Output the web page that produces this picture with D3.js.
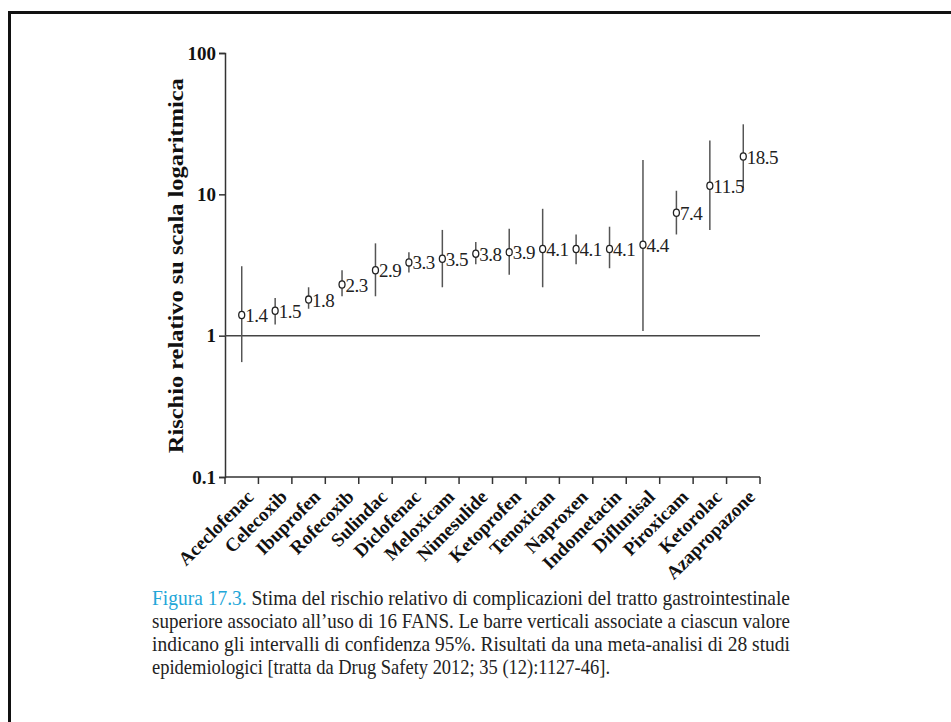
<!DOCTYPE html>
<html>
<head>
<meta charset="utf-8">
<script src="https://cdn.jsdelivr.net/npm/d3@7"></script>
<style>
  body { margin: 0; background: #fff; }
  svg text { font-family: "Liberation Serif", "DejaVu Serif", serif; }
</style>
</head>
<body>
<div id="chart"></div>
<script>
// drug names, point estimate (relative risk) and 95% CI
const drugs = ["Aceclofenac", "Celecoxib", "Ibuprofen", "Rofecoxib", "Sulindac", "Diclofenac",
  "Meloxicam", "Nimesulide", "Ketoprofen", "Tenoxican", "Naproxen", "Indometacin",
  "Diflunisal", "Piroxicam", "Ketorolac", "Azapropazone"]
const rr = [1.4, 1.5, 1.8, 2.3, 2.9, 3.3, 3.5, 3.8, 3.9, 4.1, 4.1, 4.1, 4.4, 7.4, 11.5, 18.5]
const ciLow = [0.65, 1.2, 1.55, 1.9, 1.9, 2.8, 2.2, 3.2, 2.7, 2.2, 3.2, 3.0, 1.08, 5.2, 5.6, 11.1]
const ciHigh = [3.1, 1.85, 2.2, 2.9, 4.5, 3.9, 5.6, 4.6, 5.7, 7.9, 5.2, 5.9, 17.5, 10.6, 24, 31.3]
const yTicks = [0.1, 1, 10, 100]
const yTitle = "Rischio relativo su scala logaritmica"
const captionLabel = "Figura 17.3."
const captionLines = [
  " Stima del rischio relativo di complicazioni del tratto gastrointestinale",
  "superiore associato  all\u2019uso di 16 FANS. Le barre verticali associate a ciascun valore",
  "indicano gli intervalli di confidenza 95%. Risultati da una meta-analisi di 28 studi",
  "epidemiologici [tratta da Drug Safety 2012; 35 (12):1127-46]."
]

const W = 951, H = 722
const margin = {top: 53, left: 225, right: 191, bottom: 245}
const width = W - margin.left - margin.right
const height = H - margin.top - margin.bottom

const svg = d3.select("#chart").append("svg")
  .attr("width", W)
  .attr("height", H)

// page frame
svg.append("path")
  .attr("d", `M9.5,${H} V12.5 H${W}`)
  .attr("fill", "none")
  .attr("stroke", "#111")
  .attr("stroke-width", 3)

const g = svg.append("g")
  .attr("transform", "translate(" + margin.left + "," + margin.top + ")")

const x = d3.scaleBand()
  .domain(drugs)
  .range([0, width])

const y = d3.scaleLog()
  .domain([0.1, 100])
  .range([height, 0])

// y axis
const yAxis = g.append("g")
  .call(d3.axisLeft(y).tickValues(yTicks).tickFormat(d3.format("~g")).tickSize(6).tickPadding(3))
yAxis.select(".domain").attr("stroke", "#333").attr("stroke-width", 1.5)
yAxis.selectAll(".tick line").attr("stroke", "#333").attr("stroke-width", 1.5)
yAxis.selectAll("text")
  .attr("fill", "#111")
  .style("font-size", "19px")
  .style("font-weight", "bold")
  .style("font-family", "Liberation Serif, serif")

// x axis, ticks at band edges
const xAxis = g.append("g")
  .attr("transform", "translate(0," + height + ")")
xAxis.append("line")
  .attr("x1", 0).attr("x2", width)
  .attr("stroke", "#333").attr("stroke-width", 1.5)
xAxis.selectAll(".edge")
  .data(d3.range(drugs.length + 1))
  .join("line")
  .attr("class", "edge")
  .attr("x1", i => i * x.step())
  .attr("x2", i => i * x.step())
  .attr("y1", 0).attr("y2", 7)
  .attr("stroke", "#333").attr("stroke-width", 1.5)
xAxis.selectAll(".lbl")
  .data(drugs)
  .join("text")
  .attr("class", "lbl")
  .attr("transform", d => `translate(${x(d) + x.bandwidth() / 2 + 13},21) rotate(-45)`)
  .attr("text-anchor", "end")
  .attr("fill", "#111")
  .style("font-size", "19px")
  .style("font-weight", "bold")
  .text(d => d)

// y title
g.append("text")
  .attr("transform", `translate(-42,${y(1) - 70}) rotate(-90)`)
  .attr("text-anchor", "middle")
  .attr("fill", "#111")
  .attr("textLength", 375)
  .attr("lengthAdjust", "spacingAndGlyphs")
  .style("font-size", "21px")
  .style("font-weight", "bold")
  .text(yTitle)

// reference line at RR = 1
g.append("line")
  .attr("x1", 0).attr("x2", width)
  .attr("y1", y(1)).attr("y2", y(1))
  .attr("stroke", "#444").attr("stroke-width", 1.5)

const pts = drugs.map((d, i) => ({name: d, v: rr[i], lo: ciLow[i], hi: ciHigh[i]}))

const cx = d => x(d.name) + x.bandwidth() / 2

g.selectAll(".ci")
  .data(pts)
  .join("line")
  .attr("class", "ci")
  .attr("x1", cx).attr("x2", cx)
  .attr("y1", d => y(d.lo)).attr("y2", d => y(d.hi))
  .attr("stroke", "#555").attr("stroke-width", 1.5)

g.selectAll(".pt")
  .data(pts)
  .join("ellipse")
  .attr("class", "pt")
  .attr("cx", cx)
  .attr("cy", d => y(d.v))
  .attr("rx", 3)
  .attr("ry", 3.6)
  .attr("fill", "#fff")
  .attr("stroke", "#222")
  .attr("stroke-width", 1.3)

g.selectAll(".val")
  .data(pts)
  .join("text")
  .attr("class", "val")
  .attr("x", d => cx(d) + 3.5)
  .attr("y", d => y(d.v) + 7)
  .attr("fill", "#222")
  .style("font-size", "19px")
  .style("letter-spacing", "-0.5px")
  .text(d => d.v)

// caption
const cap = svg.append("g")
const capX = 152, capW = 638
captionLines.forEach((line, i) => {
  const t = cap.append("text")
    .attr("x", capX)
    .attr("y", 605 + i * 23)
    .attr("fill", "#222")
    .style("font-size", "21px")
  if (i === 0) {
    t.append("tspan").attr("fill", "#22a6d8").text(captionLabel)
    t.append("tspan").text(line)
  } else {
    t.text(line)
  }
  if (i < captionLines.length - 1) {
    t.attr("textLength", capW).attr("lengthAdjust", "spacingAndGlyphs")
  } else {
    t.attr("textLength", 458).attr("lengthAdjust", "spacingAndGlyphs")
  }
})
</script>
</body>
</html>
